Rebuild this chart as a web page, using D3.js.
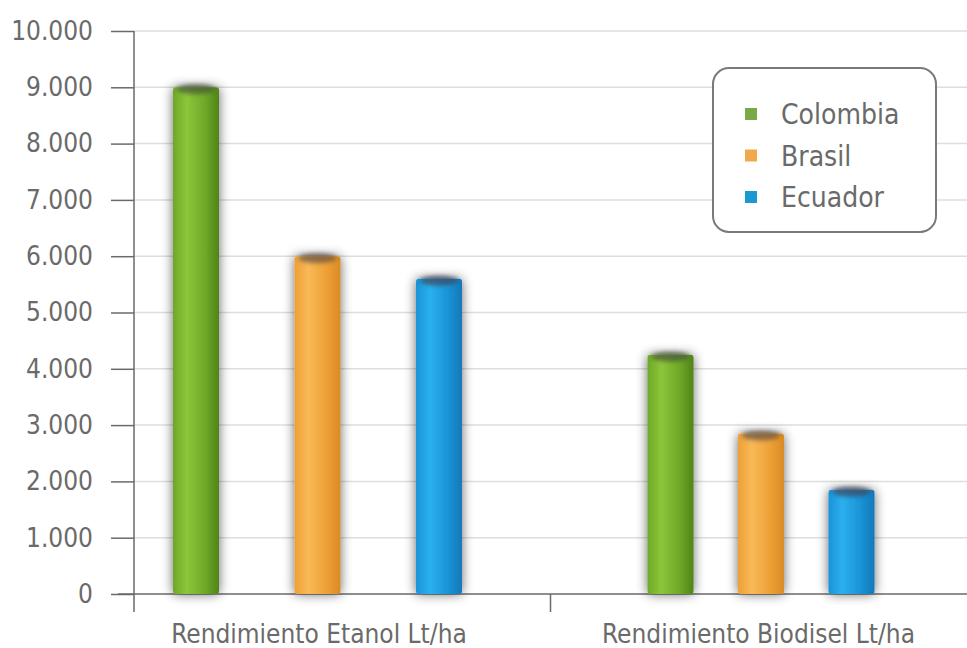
<!DOCTYPE html>
<html><head><meta charset="utf-8">
<script src="https://cdn.jsdelivr.net/npm/d3@7"></script>
<style>
html,body{margin:0;padding:0;background:#fff;}
svg{display:block;}
text{font-family:"Liberation Sans Narrow","DejaVu Sans Condensed","Roboto",sans-serif;font-stretch:condensed;fill:#6a6a6a;}
</style></head>
<body>
<script>
const categories = ["Rendimiento Etanol Lt/ha", "Rendimiento Biodisel Lt/ha"];
const seriesNames = ["Colombia", "Brasil", "Ecuador"];
const colombia = [9000, 4250];
const brasil = [6000, 2850];
const ecuador = [5600, 1850];
const yTicks = [0,1000,2000,3000,4000,5000,6000,7000,8000,9000,10000];
const tickLabels = ["0","1.000","2.000","3.000","4.000","5.000","6.000","7.000","8.000","9.000","10.000"];

const W = 967, H = 648;
const colors = {
  Colombia: {base:"#6fa828", light:"#8cc63a", dark:"#4f8419", cap:"#4a5a3a", legend:"#7aaa45"},
  Brasil:   {base:"#eea036", light:"#f8b957", dark:"#d98b25", cap:"#6a5545", legend:"#f0aa4a"},
  Ecuador:  {base:"#1a93d6", light:"#2bb0ee", dark:"#1278b8", cap:"#3a4a60", legend:"#1b98d2"}
};
const seriesVals = {Colombia: colombia, Brasil: brasil, Ecuador: ecuador};

const svg = d3.select("body").append("svg").attr("width", W).attr("height", H);
const defs = svg.append("defs");
const f = defs.append("filter").attr("id","sh").attr("x","-60%").attr("y","-10%").attr("width","220%").attr("height","120%");
f.append("feGaussianBlur").attr("in","SourceAlpha").attr("stdDeviation",6).attr("result","b");
f.append("feOffset").attr("in","b").attr("dx",0).attr("dy",0).attr("result","o");
f.append("feComponentTransfer").attr("in","o").attr("result","o2")
  .append("feFuncA").attr("type","linear").attr("slope",0.6);
const m = f.append("feMerge"); m.append("feMergeNode").attr("in","o2"); m.append("feMergeNode").attr("in","SourceGraphic");

const blur = defs.append("filter").attr("id","bl").attr("x","-30%").attr("y","-100%").attr("width","160%").attr("height","300%");
blur.append("feGaussianBlur").attr("stdDeviation",2.2);

seriesNames.forEach(s => {
  const c = colors[s];
  const g = defs.append("linearGradient").attr("id","g_"+s).attr("x1","0").attr("x2","1").attr("y1","0").attr("y2","0");
  g.append("stop").attr("offset","0").attr("stop-color",c.base);
  g.append("stop").attr("offset","0.3").attr("stop-color",c.light);
  g.append("stop").attr("offset","0.7").attr("stop-color",c.base);
  g.append("stop").attr("offset","1").attr("stop-color",c.dark);
});

const y = d3.scaleLinear().domain([0,10000]).range([594,31]);
const x0 = d3.scaleBand().domain(categories).range([134, 967]).padding(0);
const innerRanges = [[62,305],[120,301]];
const barW = 46;

// gridlines
svg.append("g").selectAll("line").data(yTicks.slice(1)).join("line")
  .attr("x1",134).attr("x2",W).attr("y1",d=>y(d)).attr("y2",d=>y(d))
  .attr("stroke","#dedede").attr("stroke-width",1.5);

// y axis
const yAxis = d3.axisLeft(y).tickValues(yTicks).tickSize(23).tickPadding(18)
  .tickFormat((d,i)=>tickLabels[i]);
const ya = svg.append("g").attr("transform","translate(134,0)").call(yAxis);
ya.select(".domain").remove();
ya.selectAll(".tick line").attr("stroke","#6a6a6a").attr("stroke-width",1.5);
ya.selectAll(".tick text").attr("font-size",26).style("fill","#6a6a6a")
  .attr("font-family",null);
svg.append("line").attr("x1",134).attr("x2",134).attr("y1",y(10000)).attr("y2",612)
  .attr("stroke","#6a6a6a").attr("stroke-width",1.5);

// x axis
svg.append("line").attr("x1",118).attr("x2",W).attr("y1",y(0)).attr("y2",y(0))
  .attr("stroke","#6a6a6a").attr("stroke-width",1.5);
svg.append("line").attr("x1",x0(categories[1])).attr("x2",x0(categories[1]))
  .attr("y1",y(0)).attr("y2",612).attr("stroke","#6a6a6a").attr("stroke-width",1.5);

// bars
categories.forEach((cat, ci) => {
  const xi = d3.scalePoint().domain(seriesNames).range(innerRanges[ci].map(v=>v + x0(cat)));
  const g = svg.append("g");
  const data = seriesNames.map(s => ({s, v: seriesVals[s][ci]}));
  const bg = g.selectAll("g").data(data).join("g");
  bg.append("rect")
    .attr("x", d=>xi(d.s)-barW/2).attr("width", barW)
    .attr("y", d=>y(d.v)).attr("height", d=>y(0)-y(d.v))
    .attr("rx",3)
    .attr("fill", d=>"url(#g_"+d.s+")").attr("filter","url(#sh)");
  bg.append("ellipse")
    .attr("cx", d=>xi(d.s)).attr("cy", d=>y(d.v)+2)
    .attr("rx", barW/2-4).attr("ry",5)
    .attr("fill", d=>colors[d.s].cap).attr("opacity",0.75).attr("filter","url(#bl)");
});

// x labels
svg.append("g").selectAll("text").data(categories).join("text")
  .attr("x", (d,i)=> i===0 ? x0(d)+185 : x0(d)+208)
  .attr("y", 643).attr("text-anchor","middle").attr("font-size",26)
  .text(d=>d);

// legend
const lg = svg.append("g");
lg.append("rect").attr("x",713).attr("y",68).attr("width",223).attr("height",164).attr("rx",16)
  .attr("fill","#fff").attr("stroke","#7a7a7a").attr("stroke-width",2);
const items = lg.selectAll("g").data(seriesNames).join("g")
  .attr("transform",(d,i)=>`translate(745,${114 + i*41.5})`);
items.append("rect").attr("x",0).attr("y",-6).attr("width",12).attr("height",12)
  .attr("fill",d=>colors[d].legend);
items.append("text").attr("x",36).attr("y",10).attr("font-size",28).text(d=>d);
</script>
</body></html>
